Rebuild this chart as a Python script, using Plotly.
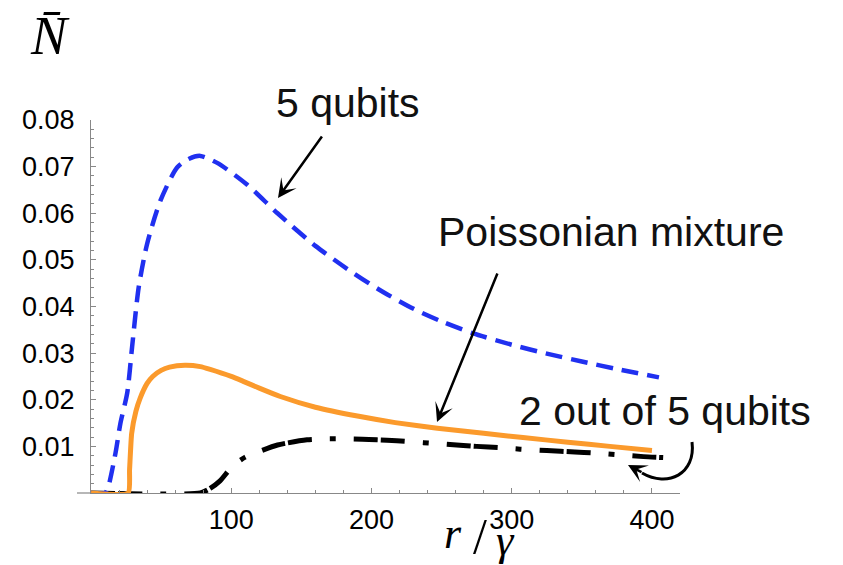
import plotly.graph_objects as go

# ---- data ----
r_five = [0, 10, 12, 17.5, 21, 25.8, 29.3, 34, 40, 49.5, 61.4, 70, 78, 90, 111, 133, 160, 183, 205, 230, 250, 272, 300, 325, 350, 375, 405]
n_five = [0, 0, 0.001, 0.0086, 0.015, 0.0214, 0.0313, 0.0441, 0.0534, 0.0627, 0.0698, 0.0717, 0.0723, 0.0708, 0.0662, 0.0600, 0.0530, 0.0480, 0.0437, 0.0395, 0.0368, 0.0343, 0.0318, 0.0299, 0.0282, 0.0266, 0.0248]

r_pois = [0, 26.5, 27.5, 29, 32, 35, 40, 44, 50, 56, 67, 78, 85, 100, 109, 120, 135, 160, 190, 217, 247, 280, 308, 340, 370, 400]
n_pois = [0, 0, 0.005, 0.0128, 0.0175, 0.0203, 0.0235, 0.0250, 0.0263, 0.0270, 0.0274, 0.0271, 0.0265, 0.0250, 0.0239, 0.0225, 0.0207, 0.0184, 0.0165, 0.0151, 0.0139, 0.0128, 0.0119, 0.0109, 0.0100, 0.0091]

r_two = [0, 78, 85, 92, 101.6, 110, 119, 133, 154, 168, 187, 204, 218, 237, 256, 275, 292, 306, 325, 345, 358, 376, 394, 408]
n_two = [0, 0, 0.001, 0.0026, 0.006, 0.0077, 0.0088, 0.0103, 0.0114, 0.0116, 0.0116, 0.0114, 0.0112, 0.0108, 0.0104, 0.0100, 0.0097, 0.0094, 0.0091, 0.0088, 0.0086, 0.0082, 0.0078, 0.0076]

x_ticks = [100, 200, 300, 400]
y_ticks = [0.01, 0.02, 0.03, 0.04, 0.05, 0.06, 0.07, 0.08]
y_ticktext = ["0.01", "0.02", "0.03", "0.04", "0.05", "0.06", "0.07", "0.08"]

# ---- layout geometry ----
W, H = 843, 565
L, R, T, B = 91, 163, 120, 72
PW, PH = W - L - R, H - T - B


def P(px, py):
    """pixel position -> paper coordinates"""
    return (px - L) / PW, (H - B - py) / PH


fig = go.Figure()
fig.add_trace(go.Scatter(x=r_two, y=n_two, mode="lines", cliponaxis=False,
                         line=dict(color="black", width=5, dash="24px,3px,24px,18px,6px,18px",
                                   shape="spline", smoothing=0.6)))
fig.add_trace(go.Scatter(x=r_five, y=n_five, mode="lines", cliponaxis=False,
                         line=dict(color="#2030f0", width=4.5, dash="17px,9px",
                                   shape="spline", smoothing=0.7)))
fig.add_trace(go.Scatter(x=r_pois, y=n_pois, mode="lines", cliponaxis=False,
                         line=dict(color="#fb9a2c", width=5, shape="spline", smoothing=0.5)))

axis_col = "#888888"
tickfont = dict(family="Liberation Sans, Arial", size=27, color="black")
fig.update_xaxes(range=[0, 420], showline=True, linecolor=axis_col, linewidth=1.2,
                 showgrid=False, zeroline=False, tickvals=x_ticks,
                 ticks="inside", ticklen=5, tickcolor=axis_col, tickwidth=1,
                 minor=dict(dtick=20, tick0=0, ticks="inside", ticklen=3, tickcolor=axis_col),
                 tickfont=tickfont, ticklabelstandoff=2)
fig.update_yaxes(range=[0, 0.08], showline=True, linecolor=axis_col, linewidth=1.2,
                 showgrid=False, zeroline=False, tickvals=y_ticks, ticktext=y_ticktext,
                 ticks="inside", ticklen=5, tickcolor=axis_col, tickwidth=1,
                 minor=dict(dtick=0.002, tick0=0, ticks="inside", ticklen=3, tickcolor=axis_col),
                 tickfont=tickfont, ticklabelstandoff=10)

shapes = []
# x axis extension to the left of the y axis
x0, y0 = P(77, 493)
x1, _ = P(91, 493)
shapes.append(dict(type="line", xref="paper", yref="paper", x0=x0, y0=y0, x1=x1, y1=y0,
                   line=dict(color=axis_col, width=1.2)))
# curved arrow body
a = P(692, 442); b = P(696, 474); c = P(668, 488); d = P(642, 473)
path = f"M {a[0]},{a[1]} C {b[0]},{b[1]} {c[0]},{c[1]} {d[0]},{d[1]}"
shapes.append(dict(type="path", xref="paper", yref="paper", path=path,
                   line=dict(color="black", width=3)))

annotations = []
txtfont = dict(family="Liberation Sans, Arial", size=41, color="#111111")
for text, cx, cy in [("5 qubits", 348, 103), ("Poissonian mixture", 611, 232), ("2 out of 5 qubits", 665, 411)]:
    px_, py_ = P(cx, cy)
    annotations.append(dict(text=text, x=px_, y=py_, xref="paper", yref="paper", showarrow=False,
                            xanchor="center", yanchor="middle", font=txtfont))

for (tx, ty), (sx, sy) in [((278, 198), (323, 135)), ((437, 422), (498, 272)), ((628, 465), (643, 473))]:
    px_, py_ = P(tx, ty)
    annotations.append(dict(text="", x=px_, y=py_, xref="paper", yref="paper", showarrow=True,
                            ax=sx - tx, ay=sy - ty, arrowhead=3, arrowsize=1.25, arrowwidth=2.5,
                            arrowcolor="black", standoff=0))

serif = "Liberation Serif, Times New Roman, serif"
# axis titles
px_, py_ = P(50, 36)
annotations.append(dict(text="<i>N̄</i>", x=px_, y=py_, xref="paper", yref="paper", showarrow=False,
                        xanchor="center", yanchor="middle", font=dict(family=serif, size=54, color="black")))
px_, py_ = P(453, 533)
annotations.append(dict(text="<i>r</i>", x=px_, y=py_, xref="paper", yref="paper", showarrow=False,
                        xanchor="center", yanchor="middle", font=dict(family=serif, size=44, color="black")))
px_, py_ = P(480, 536)
annotations.append(dict(text="/", x=px_, y=py_, xref="paper", yref="paper", showarrow=False,
                        xanchor="center", yanchor="middle", font=dict(family=serif, size=50, color="black")))
px_, py_ = P(505, 540)
annotations.append(dict(text="<i>γ</i>", x=px_, y=py_, xref="paper", yref="paper", showarrow=False,
                        xanchor="center", yanchor="middle", font=dict(family=serif, size=44, color="black")))

fig.update_layout(width=W, height=H, margin=dict(l=L, r=R, t=T, b=B),
                  paper_bgcolor="white", plot_bgcolor="white", showlegend=False,
                  shapes=shapes, annotations=annotations)

fig.write_html("out.html")
